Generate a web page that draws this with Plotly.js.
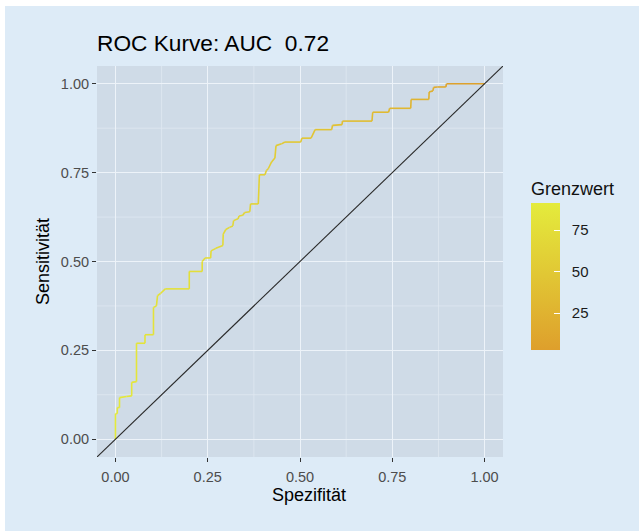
<!DOCTYPE html>
<html><head><meta charset="utf-8">
<script src="https://cdn.plot.ly/plotly-3.0.1.min.js"></script>
<style>html,body{margin:0;padding:0;background:#ffffff;} #chart{position:absolute;left:5px;top:6px;width:634px;height:525px;}</style>
</head><body><div id="chart"></div>
<script>
// ROC curve vertices (x = Spezifität axis as plotted, y = Sensitivität)
const spezifitaet = [0, 0, 0.005, 0.005, 0.011, 0.011, 0.03, 0.044, 0.044, 0.057, 0.057, 0.08, 0.08, 0.103, 0.103, 0.111, 0.114, 0.122, 0.135, 0.2, 0.2, 0.235, 0.235, 0.243, 0.258, 0.259, 0.272, 0.291, 0.292, 0.299, 0.309, 0.318, 0.32, 0.332, 0.335, 0.345, 0.35, 0.364, 0.366, 0.387, 0.39, 0.405, 0.409, 0.414, 0.423, 0.432, 0.435, 0.45, 0.459, 0.502, 0.505, 0.53, 0.541, 0.586, 0.588, 0.614, 0.615, 0.695, 0.697, 0.74, 0.743, 0.8, 0.801, 0.849, 0.85, 0.86, 0.862, 0.872, 0.895, 0.897, 1.0];
const sensitivitaet = [0, 0.072, 0.072, 0.089, 0.089, 0.117, 0.12, 0.122, 0.16, 0.162, 0.27, 0.27, 0.294, 0.294, 0.371, 0.375, 0.404, 0.41, 0.423, 0.423, 0.472, 0.472, 0.5, 0.51, 0.51, 0.53, 0.537, 0.545, 0.577, 0.59, 0.596, 0.6, 0.615, 0.62, 0.628, 0.63, 0.638, 0.64, 0.662, 0.662, 0.744, 0.744, 0.756, 0.761, 0.78, 0.791, 0.826, 0.831, 0.836, 0.836, 0.847, 0.847, 0.871, 0.871, 0.883, 0.885, 0.895, 0.895, 0.92, 0.92, 0.931, 0.931, 0.956, 0.956, 0.977, 0.98, 0.99, 0.991, 0.991, 1.0, 1.0];
const grenzwert = [91.3, 90.5, 89.6, 89, 88.2, 87.5, 86.8, 86, 85.2, 84.5, 83.7, 83, 82.2, 81.5, 80.6, 80, 79.3, 78.7, 78, 77.4, 76.5, 75.8, 75, 74.2, 73.5, 72.8, 72, 71.3, 70.5, 69.8, 69, 68.3, 67.5, 66.8, 66, 65.2, 64.5, 63.7, 63, 62.2, 61, 59.8, 58.5, 57.3, 56, 54.6, 53.2, 51.8, 50.5, 49, 47.5, 46, 44.4, 42.8, 41.2, 39.5, 37.8, 36, 34.3, 32.5, 30.7, 28.8, 27, 25, 22.6, 20.3, 17.8, 15.2, 12, 8, 2.7];

const axisRange = [-0.05, 1.05];
const tickVals = [0, 0.25, 0.5, 0.75, 1];
const tickText = ['0.00', '0.25', '0.50', '0.75', '1.00'];
const minorVals = [0.125, 0.375, 0.625, 0.875];
const legendTicks = [25, 50, 75];
const legendTickText = ['25', '50', '75'];
const colorStops = [[0, '#de9f2c'], [0.5, '#e1c634'], [1, '#e4eb3c']];

const cmin = Math.min(...grenzwert), cmax = Math.max(...grenzwert);
function hexToRgb(h){ const n = parseInt(h.slice(1),16); return [(n>>16)&255,(n>>8)&255,n&255]; }
function colorFor(v){
  const t = (v - cmin) / (cmax - cmin);
  for (let i = 0; i < colorStops.length - 1; i++){
    const [t0,c0] = colorStops[i], [t1,c1] = colorStops[i+1];
    if (t <= t1 || i === colorStops.length - 2){
      const f = Math.max(0, Math.min(1, (t - t0) / (t1 - t0)));
      const a = hexToRgb(c0), b = hexToRgb(c1);
      return 'rgb(' + a.map((x,k)=>Math.round(x + (b[k]-x)*f)).join(',') + ')';
    }
  }
}

const traces = [];
for (let i = 0; i < spezifitaet.length - 1; i++){
  traces.push({
    x: [spezifitaet[i], spezifitaet[i+1]], y: [sensitivitaet[i], sensitivitaet[i+1]],
    mode: 'lines', line: {color: colorFor((grenzwert[i] + grenzwert[i+1]) / 2), width: 1.6},
    hoverinfo: 'skip', showlegend: false
  });
}
// diagonal reference line across the panel
traces.push({x: axisRange, y: axisRange, mode: 'lines', line: {color: '#2a2a2a', width: 1.1}, hoverinfo: 'skip', showlegend: false});

// plot area geometry in the div (pixels)
const W = 634, H = 525, mL = 92, mR = 136, mT = 60, mB = 74;
const plotW = W - mL - mR, plotH = H - mT - mB;
const barLenPx = 147, titleBlock = 25, barThick = 29;
const barX = (526 - mL) / plotW;
const barBottomPx = 344;           // bar bottom, div pixels
const totalLen = barLenPx + titleBlock;
const barYc = (H - mB - (barBottomPx - totalLen / 2)) / plotH;
const barMidPaper = (H - mB - (barBottomPx - barLenPx / 2)) / plotH;

traces.push({
  x: spezifitaet, y: sensitivitaet, mode: 'markers', hoverinfo: 'skip', showlegend: false,
  marker: {color: grenzwert, colorscale: colorStops, cmin: cmin, cmax: cmax, size: 1, opacity: 0, showscale: true,
    colorbar: {
      title: {text: 'Grenzwert', side: 'top', font: {size: 18, color: '#111'}},
      thickness: barThick, thicknessmode: 'pixels', len: totalLen, lenmode: 'pixels',
      x: barX, xanchor: 'left', xpad: 0, y: barYc, yanchor: 'middle', ypad: 0,
      tickmode: 'array', tickvals: legendTicks, ticktext: legendTickText.map(s => '\u00a0\u00a0' + s),
      ticks: 'inside', ticklen: 6, tickcolor: '#ffffff', tickwidth: 1,
      tickfont: {size: 15, color: '#1a1a1a'}, outlinewidth: 0, bgcolor: 'rgba(0,0,0,0)'
    }}
});

const shapes = [];
// minor grid lines
minorVals.forEach(v => {
  shapes.push({type: 'line', layer: 'below', xref: 'x', yref: 'paper', x0: v, x1: v, y0: 0, y1: 1, line: {color: '#dfe8f1', width: 0.8}});
  shapes.push({type: 'line', layer: 'below', xref: 'paper', yref: 'y', x0: 0, x1: 1, y0: v, y1: v, line: {color: '#dfe8f1', width: 0.8}});
});
// white ticks on the left edge of the colour bar
legendTicks.forEach(v => {
  const yp = barMidPaper + ((v - (cmin + cmax) / 2) / (cmax - cmin)) * barLenPx / plotH;
  shapes.push({type: 'line', xref: 'paper', yref: 'paper', x0: barX, x1: barX + 6 / plotW, y0: yp, y1: yp,
          line: {color: '#ffffff', width: 1}});
});

const axisCommon = {
  range: axisRange, tickmode: 'array', tickvals: tickVals, ticktext: tickText,
  ticks: 'outside', ticklen: 4, tickcolor: '#333333', tickwidth: 1,
  tickfont: {size: 14.5, color: '#4d4d4d'},
  showgrid: true, gridcolor: '#edf3f9', gridwidth: 1, zeroline: false, showline: false,
  automargin: false, fixedrange: true
};

const layout = {
  width: W, height: H,
  paper_bgcolor: '#ddebf7', plot_bgcolor: '#cfdbe7',
  margin: {l: mL, r: mR, t: mT, b: mB},
  font: {family: '"Liberation Sans", Arial, sans-serif', color: '#000'},
  title: {text: 'ROC Kurve: AUC\u00a0 0.72', x: 0, xref: 'paper', xanchor: 'left',
          y: 1 - 37.5 / H, yref: 'container', yanchor: 'middle', font: {size: 22.7, color: '#000'}},
  xaxis: Object.assign({}, axisCommon, {ticklabelstandoff: 3}),
  yaxis: Object.assign({}, axisCommon, {title: {text: 'Sensitivität', font: {size: 18, color: '#000'}, standoff: 6}}),
  annotations: [{text: 'Spezifität', xref: 'paper', yref: 'paper', x: (303.5 - mL) / plotW, y: 0,
                 yshift: -38, xanchor: 'center', yanchor: 'middle', showarrow: false,
                 font: {size: 18, color: '#000'}}],
  shapes: shapes,
  showlegend: false
};

Plotly.newPlot('chart', traces, layout, {displayModeBar: false, staticPlot: true});
</script></body></html>
